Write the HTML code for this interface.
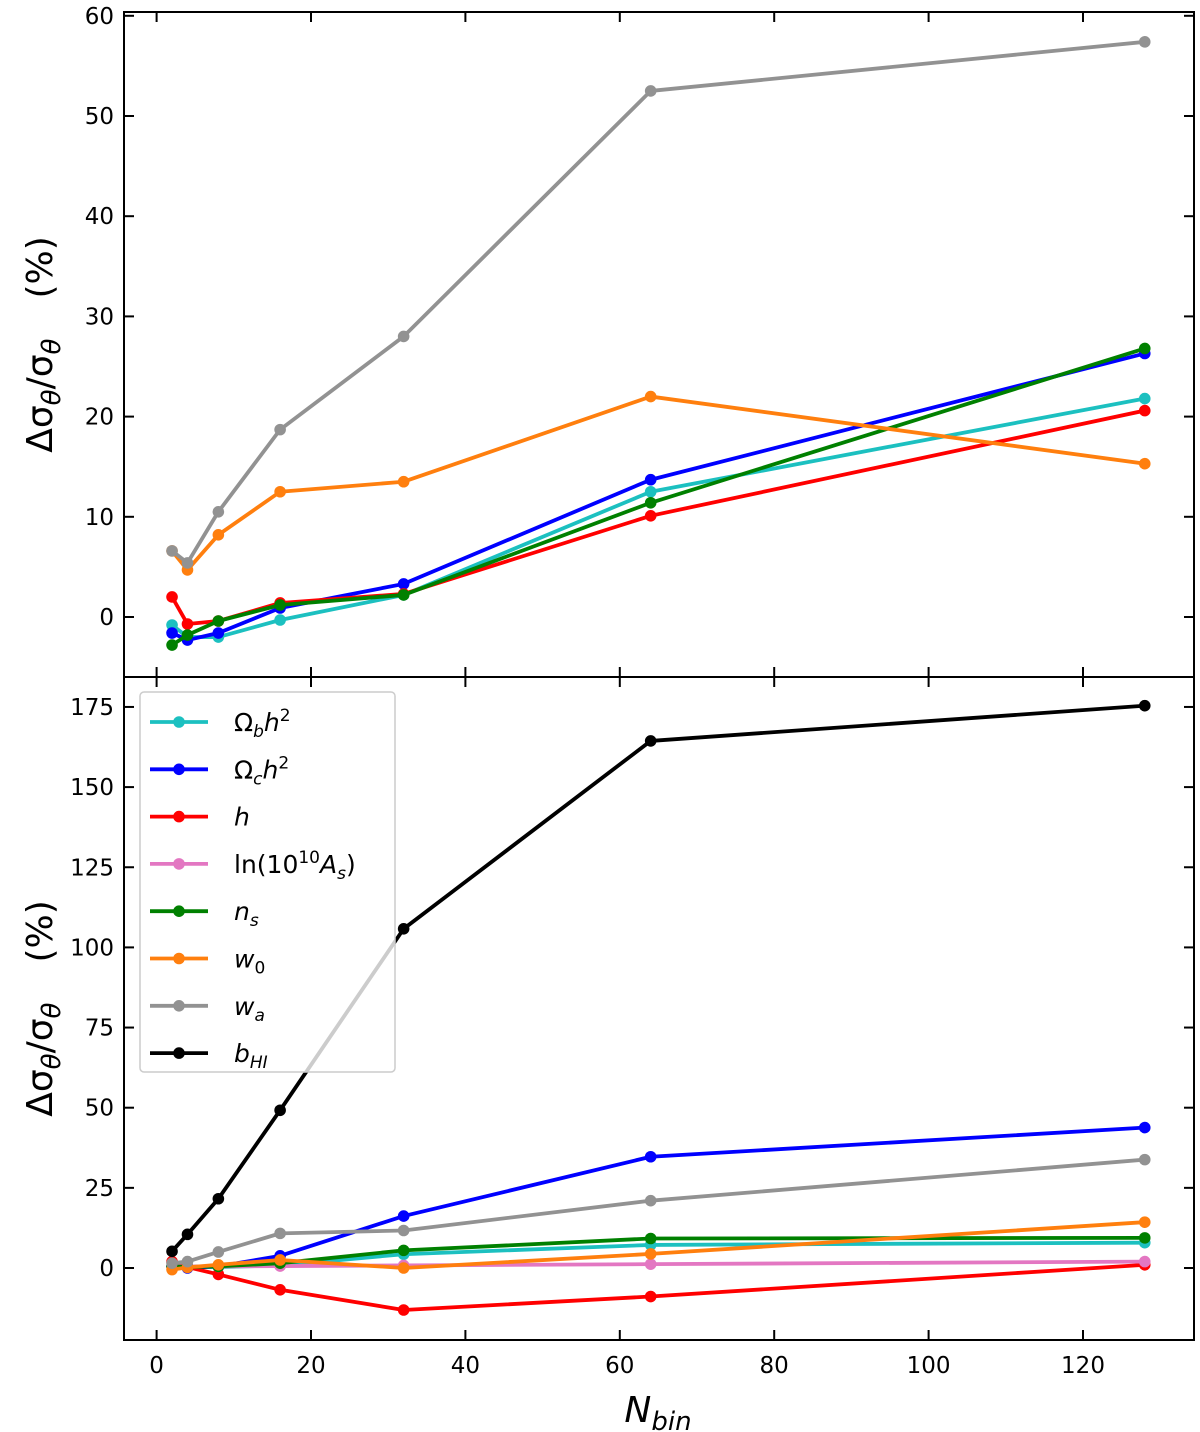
<!DOCTYPE html>
<html><head><meta charset="utf-8"><style>
body{margin:0;background:#fff}
svg{display:block;font-family:"DejaVu Sans","Liberation Sans",sans-serif}
</style></head><body>
<svg id="c" width="1200" height="1432" xmlns="http://www.w3.org/2000/svg"></svg>
<script>
const nbins=[2,4,8,16,32,64,128];
const xTicks=[0,20,40,60,80,100,120];
const topTicks=[0,10,20,30,40,50,60];
const botTicks=[0,25,50,75,100,125,150,175];
const colors={Ob:'#1cc0c0',Oc:'#0000ff',h:'#ff0000',As:'#e377c2',ns:'#008000',w0:'#ff7f0e',wa:'#929292',b:'#000000'};
const topOb=[-0.8,-2.0,-2.0,-0.3,2.2,12.5,21.8];
const topOc=[-1.6,-2.3,-1.6,0.9,3.3,13.7,26.3];
const topH=[2.0,-0.7,-0.4,1.4,2.3,10.1,20.6];
const topNs=[-2.8,-1.8,-0.4,1.2,2.2,11.4,26.8];
const topW0=[6.6,4.7,8.2,12.5,13.5,22.0,15.3];
const topWa=[6.6,5.4,10.5,18.7,28.0,52.5,57.4];
const botB=[5.2,10.5,21.6,49.2,105.8,164.4,175.4];
const botOc=[0.5,0,0.5,3.8,16.2,34.7,43.8];
const botWa=[1.5,2.0,5.0,10.8,11.7,21.0,33.8];
const botNs=[0.5,0.3,0.5,1.5,5.5,9.2,9.4];
const botOb=[0.5,0.3,0.3,0.8,4.3,7.2,7.9];
const botW0=[-0.5,0.2,1.0,2.5,0.0,4.4,14.3];
const botAs=[0.5,0.5,0.5,0.6,0.8,1.2,2.0];
const botH=[2.0,0.3,-2.0,-6.8,-13.1,-8.9,1.0];

const svg=document.getElementById('c');const NS='http://www.w3.org/2000/svg';
function mk(t,a,p){const e=document.createElementNS(NS,t);for(const k in a)e.setAttribute(k,a[k]);(p||svg).appendChild(e);return e;}
const L=124,R=1194;
const X=v=>156.6+v*7.72;
const YT=v=>617-v*10.02;
const YB=v=>1268-v*3.206;
function panel(name,top,bot,Y,ticks){
  const g=mk('g',{});
  
  
  mk('rect',{x:L,y:top,width:R-L,height:bot-top,fill:'none',stroke:'#000','stroke-width':2},g);
  ticks.forEach(t=>{const y=Y(t);
    mk('line',{x1:L,x2:L+10,y1:y,y2:y,stroke:'#000','stroke-width':2},g);
    mk('line',{x1:R-10,x2:R,y1:y,y2:y,stroke:'#000','stroke-width':2},g);
    const tx=mk('text',{x:L-10,y:y+8,'text-anchor':'end','font-size':23},g);tx.textContent=t;
    
    
  });
  xTicks.forEach(t=>{const x=X(t);
    mk('line',{x1:x,x2:x,y1:bot-10,y2:bot,stroke:'#000','stroke-width':2},g);
    mk('line',{x1:x,x2:x,y1:top,y2:top+10,stroke:'#000','stroke-width':2},g);
  });
  const yl=mk('text',{transform:`translate(52,${(top+bot)/2}) rotate(-90)`,'text-anchor':'middle','font-size':36},g);
  yl.innerHTML='Δσ<tspan font-size="26" dy="8" font-style="italic">θ</tspan><tspan dy="-8">/σ</tspan><tspan font-size="26" dy="8" font-style="italic">θ</tspan><tspan dy="-8" dx="40">(%)</tspan>';
  
  
  return g;
}
function series(g,name,vals,col,Y){
  const s=mk('g',{},g);
  
  
  mk('polyline',{points:vals.map((v,i)=>X(nbins[i])+','+Y(v)).join(' '),fill:'none',stroke:col,'stroke-width':3.8,'stroke-linejoin':'round'},s);
  vals.forEach((v,i)=>mk('circle',{cx:X(nbins[i]),cy:Y(v),r:5.8,fill:col},s));
}
const gt=panel('top-panel',12,677,YT,topTicks);
series(gt,'top-omega-b',topOb,colors.Ob,YT);
series(gt,'top-omega-c',topOc,colors.Oc,YT);
series(gt,'top-h',topH,colors.h,YT);
series(gt,'top-ns',topNs,colors.ns,YT);
series(gt,'top-w0',topW0,colors.w0,YT);
series(gt,'top-wa',topWa,colors.wa,YT);
const gb=panel('bottom-panel',677,1340,YB,botTicks);
series(gb,'bottom-omega-b',botOb,colors.Ob,YB);
series(gb,'bottom-omega-c',botOc,colors.Oc,YB);
series(gb,'bottom-h',botH,colors.h,YB);
series(gb,'bottom-as',botAs,colors.As,YB);
series(gb,'bottom-ns',botNs,colors.ns,YB);
series(gb,'bottom-w0',botW0,colors.w0,YB);
series(gb,'bottom-wa',botWa,colors.wa,YB);
series(gb,'bottom-bhi',botB,colors.b,YB);
xTicks.forEach(t=>{const tx=mk('text',{x:X(t),y:1373,'text-anchor':'middle','font-size':23});tx.textContent=t;
  
  });
const xl=mk('text',{x:658,y:1422,'text-anchor':'middle','font-size':36,'font-style':'italic'});
xl.innerHTML='N<tspan font-size="26" dy="8">bin</tspan>';


// legend
const lg=mk('g',{});


mk('rect',{x:140,y:692,width:255,height:380,rx:4,fill:'#fff','fill-opacity':0.8,stroke:'#ccc','stroke-width':1.5},lg);
const labs=['Ω<tspan font-size="17" dy="6" font-style="italic">b</tspan><tspan dy="-6" font-style="italic">h</tspan><tspan font-size="17" dy="-10">2</tspan>',
'Ω<tspan font-size="17" dy="6" font-style="italic">c</tspan><tspan dy="-6" font-style="italic">h</tspan><tspan font-size="17" dy="-10">2</tspan>',
'<tspan font-style="italic">h</tspan>',
'ln(10<tspan font-size="17" dy="-10">10</tspan><tspan dy="10" font-style="italic">A</tspan><tspan font-size="17" dy="6" font-style="italic">s</tspan><tspan dy="-6">)</tspan>',
'<tspan font-style="italic">n</tspan><tspan font-size="17" dy="6" font-style="italic">s</tspan>',
'<tspan font-style="italic">w</tspan><tspan font-size="17" dy="6">0</tspan>',
'<tspan font-style="italic">w</tspan><tspan font-size="17" dy="6" font-style="italic">a</tspan>',
'<tspan font-style="italic">b</tspan><tspan font-size="17" dy="6" font-style="italic">HI</tspan>'];
const lcols=[colors.Ob,colors.Oc,colors.h,colors.As,colors.ns,colors.w0,colors.wa,colors.b];
const lnames=['omega-b','omega-c','h','as','ns','w0','wa','bhi'];
labs.forEach((l,i)=>{const y=722+i*47.3;const e=mk('g',{},lg);
  
  
  mk('line',{x1:150,x2:208,y1:y,y2:y,stroke:lcols[i],'stroke-width':3.8},e);
  mk('circle',{cx:179,cy:y,r:5.8,fill:lcols[i]},e);
  const t=mk('text',{x:234,y:y+9,'font-size':25},e);t.innerHTML=l;});
</script>
</body></html>
